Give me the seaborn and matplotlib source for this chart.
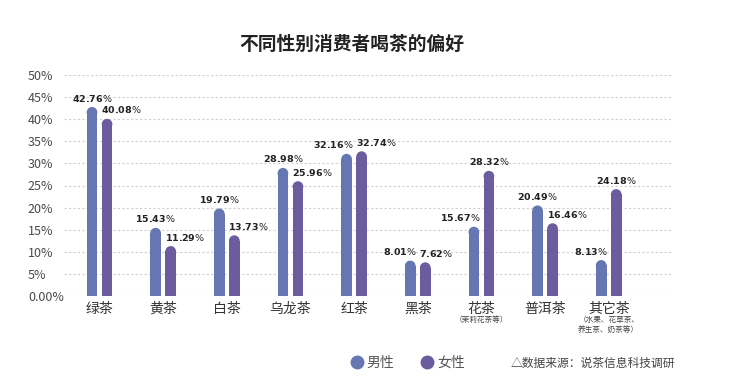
import numpy as np
import pandas as pd
import matplotlib
matplotlib.use("Agg")
import matplotlib.pyplot as plt
import seaborn as sns
from matplotlib.patches import Ellipse
from matplotlib.lines import Line2D

# ---- data ----
categories = ["绿茶", "黄茶", "白茶", "乌龙茶", "红茶", "黑茶", "花茶", "普洱茶", "其它茶"]
sublabels = ["", "", "", "", "", "", "（茉莉花茶等）", "", "（水果、花草茶、\n养生茶、奶茶等）"]
series = ["男性", "女性"]
male = [42.76, 15.43, 19.79, 28.98, 32.16, 8.01, 15.67, 20.49, 8.13]
female = [40.08, 11.29, 13.73, 25.96, 32.74, 7.62, 28.32, 16.46, 24.18]
yticks = [0, 5, 10, 15, 20, 25, 30, 35, 40, 45, 50]
ytick_labels = ["0.00%", "5%", "10%", "15%", "20%", "25%", "30%", "35%", "40%", "45%", "50%"]
title = "不同性别消费者喝茶的偏好"
source = "△数据来源：说茶信息科技调研"

colors = {"男性": "#6577b3", "女性": "#6b5b9f"}

sns.set_theme(style="white")
plt.rcParams["font.family"] = ["Noto Sans CJK SC", "DejaVu Sans"]
plt.rcParams["mathtext.fontset"] = "dejavusans"

df = pd.DataFrame({
    "cat": categories * 2,
    "sex": [series[0]] * len(categories) + [series[1]] * len(categories),
    "val": male + female,
})

W, H = 743, 388
fig = plt.figure(figsize=(W / 100, H / 100), dpi=100)
fig.patch.set_facecolor("white")
ax = fig.add_axes([64 / W, 1 - 296 / H, (671 - 64) / W, (296 - 75) / H])

sns.barplot(data=df, x="cat", y="val", hue="sex", palette=colors, order=categories,
            hue_order=series, width=0.472, gap=0.288, saturation=1, errorbar=None,
            legend=False, linewidth=0, ax=ax)

ax.set_xlim(-0.558, 8.979)
ax.set_ylim(0, 50)
ax.set_xlabel("")
ax.set_ylabel("")
for s in ax.spines.values():
    s.set_visible(False)

ax.set_yticks(yticks)
ax.set_yticklabels(ytick_labels, ha="left", fontsize=9, color="#4a4a4a")
ax.tick_params(axis="y", length=0, pad=26)
ax.yaxis.grid(True, linestyle=(0, (2, 2)), color="#cfcfcf", linewidth=0.8)
ax.xaxis.grid(False)
ax.set_axisbelow(True)

ax.set_xticks(range(len(categories)))
ax.set_xticklabels(categories, fontsize=10, color="#333333")
ax.tick_params(axis="x", length=0, pad=4)

# sublabels
for i, sl in enumerate(sublabels):
    if sl:
        ax.annotate(sl, xy=(i, 0), xycoords=ax.get_xaxis_transform(), xytext=(0, -14.5),
                    textcoords="offset points", ha="center", va="top", fontsize=5.5,
                    color="#444444", linespacing=1.35)

# rounded tops
fig.canvas.draw()
ppx = ax.transData.transform((1, 0))[0] - ax.transData.transform((0, 0))[0]
ppy = ax.transData.transform((0, 1))[1] - ax.transData.transform((0, 0))[1]
bars = [p for p in ax.patches if p.get_height() > 0]
info = []
for p in bars:
    x, w, h = p.get_x(), p.get_width(), p.get_height()
    ry = (w * ppx / 2) / ppy
    p.set_height(h - ry)
    e = Ellipse((x + w / 2, h - ry), w, 2 * ry, facecolor=p.get_facecolor(), linewidth=0)
    ax.add_patch(e)
    info.append((x, w, h))


def lab(v):
    return f"$\\mathbf{{{v:.2f}}}$%"


kw = dict(textcoords="offset points", va="bottom", fontsize=6.8, color="#222222",
          family="DejaVu Sans")
info.sort(key=lambda t: t[0])
for i in range(len(categories)):
    (xm, wm, hm), (xf, wf, hf) = info[2 * i], info[2 * i + 1]
    diff = hm - hf
    if diff > 2:
        ax.annotate(lab(hm), xy=(xm + wm / 2, hm), xytext=(0, 2.5), ha="center", **kw)
    else:
        ax.annotate(lab(hm), xy=(xm + wm, hm), xytext=(1, 2.5), ha="right", **kw)
    if -diff > 2:
        ax.annotate(lab(hf), xy=(xf + wf / 2, hf), xytext=(0, 2.5), ha="center", **kw)
    else:
        ax.annotate(lab(hf), xy=(xf, hf), xytext=(-0.5, 2.5), ha="left", **kw)

fig.text(352 / W, 1 - 44 / H, title, ha="center", va="center", fontsize=13.5,
         fontweight="bold", color="#222222")

handles = [Line2D([], [], marker="o", linestyle="", markersize=10,
                  markerfacecolor=colors[s], markeredgewidth=0) for s in series]
fig.legend(handles, series, loc="center", bbox_to_anchor=(408 / W, 1 - 363 / H), ncol=2,
           frameon=False, fontsize=10, handlelength=0.8, handletextpad=0.3,
           columnspacing=2.0, labelcolor="#555555")

fig.text(511 / W, 1 - 363 / H, source, ha="left", va="center", fontsize=8.5, color="#444444")

fig.savefig("out.png", dpi=100, facecolor="white")
